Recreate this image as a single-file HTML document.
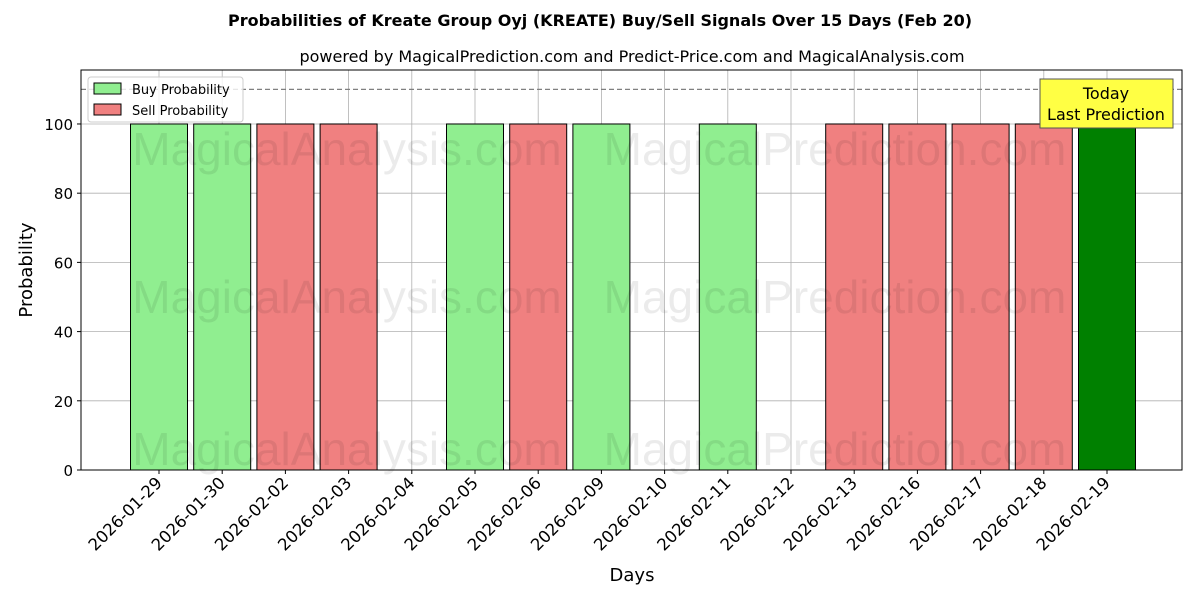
<!DOCTYPE html>
<html><head><meta charset="utf-8"><style>
body{margin:0;background:#fff;font-family:"Liberation Sans","DejaVu Sans",sans-serif}
svg text{font-family:"DejaVu Sans","Liberation Sans",sans-serif}
</style></head><body>
<svg id="c" width="1200" height="600" xmlns="http://www.w3.org/2000/svg"></svg>
<script>
const categories=["2026-01-29","2026-01-30","2026-02-02","2026-02-03","2026-02-04","2026-02-05","2026-02-06","2026-02-09","2026-02-10","2026-02-11","2026-02-12","2026-02-13","2026-02-16","2026-02-17","2026-02-18","2026-02-19"];
const buyValues=[100,100,0,0,0,100,0,100,0,100,0,0,0,0,0,0];
const sellValues=[0,0,100,100,0,0,100,0,0,0,0,100,100,100,100,0];
const todayValues=[0,0,0,0,0,0,0,0,0,0,0,0,0,0,0,100];
const yTicks=[0,20,40,60,80,100];
const L=81,R=1182,T=70,B=470,yMax=115.6;
const NS="http://www.w3.org/2000/svg",svg=document.getElementById('c');
const x=i=>159+i*63.2;
const y=v=>B-(v/yMax)*(B-T);
function mk(t,a,txt){const e=document.createElementNS(NS,t);for(const k in a)e.setAttribute(k,a[k]);if(txt!==undefined)e.textContent=txt;svg.appendChild(e);return e;}
// grid
yTicks.forEach(v=>{const g=mk('line',{x1:L,x2:R,y1:y(v),y2:y(v),stroke:'#b0b0b0','stroke-width':0.8});


const t=mk('text',{x:L-8,y:y(v)+6,'text-anchor':'end','font-size':15},v);


mk('line',{x1:L-4,x2:L,y1:y(v),y2:y(v),stroke:'#000'});});
categories.forEach((c,i)=>{const g=mk('line',{x1:x(i),x2:x(i),y1:T,y2:B,stroke:'#b0b0b0','stroke-width':0.8});


mk('line',{x1:x(i),x2:x(i),y1:B,y2:B+4,stroke:'#000'});
const t=mk('text',{x:x(i)+4,y:B+14,'text-anchor':'end','font-size':16.5,transform:`rotate(-45 ${x(i)+4} ${B+14})`},c);

});
// bars
function bars(vals,fill,name){vals.forEach((v,i)=>{if(!v)return;const r=mk('rect',{x:x(i)-28.5,y:y(v),width:57,height:B-y(v),fill:fill,stroke:'#000','stroke-width':1});

});}
bars(buyValues,'#90ee90','buy-bar');bars(sellValues,'#f08080','sell-bar');bars(todayValues,'#008000','today-bar');
// watermarks
[[347,150],[835,150],[347,298],[835,298],[347,450],[835,450]].forEach((p,k)=>{const w=mk('text',{x:p[0],y:p[1]+15,'text-anchor':'middle','font-size':46,fill:'#000','fill-opacity':0.08,style:'font-family:"Liberation Sans",sans-serif'},k%2?'MagicalPrediction.com':'MagicalAnalysis.com');

});
// dashed line
const d=mk('line',{x1:L,x2:R,y1:y(110),y2:y(110),stroke:'#808080','stroke-width':1.3,'stroke-dasharray':'5,3'});


// frame
const f=mk('rect',{x:L,y:T,width:R-L,height:B-T,fill:'none',stroke:'#000','stroke-width':1});


// legend
const lg=mk('rect',{x:88,y:77,width:155,height:45,fill:'#fff','fill-opacity':0.8,stroke:'#ccc',rx:3});


mk('rect',{x:94,y:83,width:27,height:11,fill:'#90ee90',stroke:'#000'});
const l1=mk('text',{x:132,y:94,'font-size':13},'Buy Probability');


mk('rect',{x:94,y:104,width:27,height:11,fill:'#f08080',stroke:'#000'});
const l2=mk('text',{x:132,y:115,'font-size':13},'Sell Probability');


// today box
const tb=mk('rect',{x:1040,y:79,width:133,height:49,fill:'#ffff44',stroke:'#555'});


mk('text',{x:1106,y:99,'text-anchor':'middle','font-size':16},'Today');
mk('text',{x:1106,y:120,'text-anchor':'middle','font-size':16},'Last Prediction');
// titles
const t1=mk('text',{x:600,y:26,'text-anchor':'middle','font-size':16,'font-weight':'bold'},'Probabilities of Kreate Group Oyj (KREATE) Buy/Sell Signals Over 15 Days (Feb 20)');


const t2=mk('text',{x:632,y:62,'text-anchor':'middle','font-size':16},'powered by MagicalPrediction.com and Predict-Price.com and MagicalAnalysis.com');


const xt=mk('text',{x:632,y:581,'text-anchor':'middle','font-size':18},'Days');


const yt=mk('text',{x:32,y:270,'text-anchor':'middle','font-size':18,transform:'rotate(-90 32 270)'},'Probability');


</script>
</body></html>
